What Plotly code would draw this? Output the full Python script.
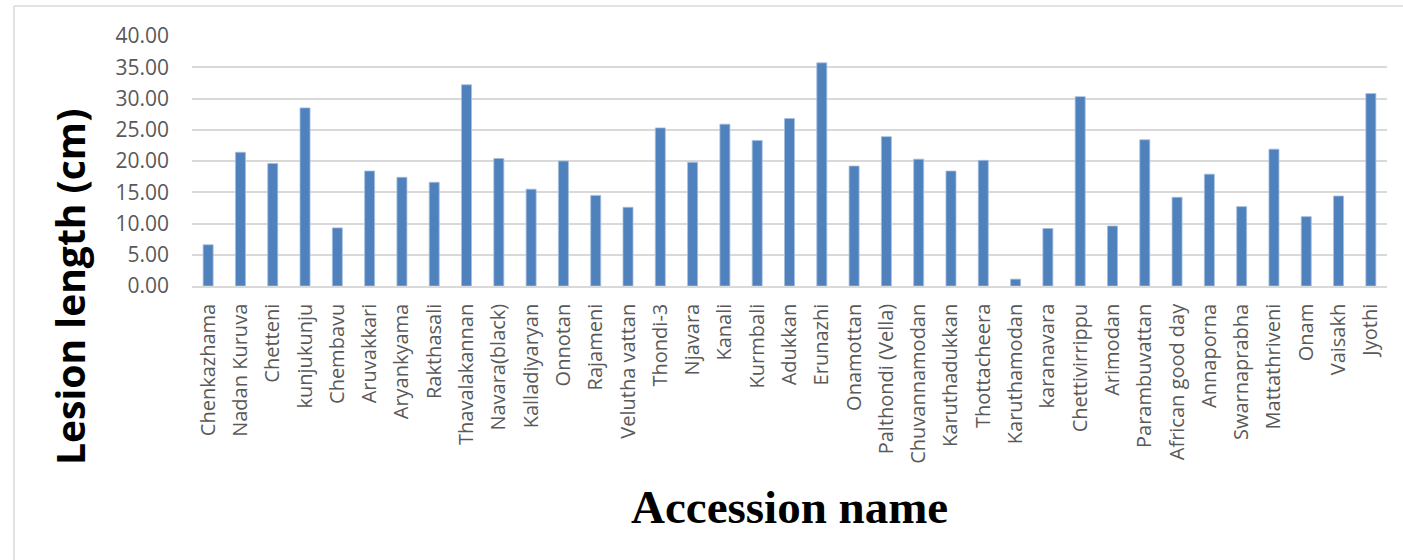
import plotly.graph_objects as go

accessions = ["Chenkazhama", "Nadan Kuruva", "Chetteni", "kunjukunju", "Chembavu",
              "Aruvakkari", "Aryankyama", "Rakthasali", "Thavalakannan", "Navara(black)",
              "Kalladiyaryan", "Onnotan", "Rajameni", "Velutha vattan", "Thondi-3",
              "Njavara", "Kanali", "Kurmbali", "Adukkan", "Erunazhi", "Onamottan",
              "Palthondi (Vella)", "Chuvannamodan", "Karuthadukkan", "Thottacheera",
              "Karuthamodan", "karanavara", "Chettivirrippu", "Arimodan", "Parambuvattan",
              "African good day", "Annaporna", "Swarnaprabha", "Mattathriveni", "Onam",
              "Vaisakh", "Jyothi"]
lesion_length = [6.6, 21.4, 19.6, 28.5, 9.3, 18.4, 17.4, 16.6, 32.2, 20.4,
                 15.5, 20.0, 14.5, 12.6, 25.3, 19.8, 25.9, 23.3, 26.8, 35.7, 19.2,
                 23.9, 20.3, 18.4, 20.1, 1.1, 9.2, 30.3, 9.6, 23.4,
                 14.2, 17.9, 12.7, 21.9, 11.1, 14.4, 30.8]
y_ticks = [0, 5, 10, 15, 20, 25, 30, 35, 40]

W, H = 1403, 560
L, R, T, B = 192, 16, 36, 274
pw, ph = W - L - R, H - T - B

def px_x(x):
    return (x - L) / pw

def px_y(y):
    return (H - B - y) / ph

fig = go.Figure(go.Bar(
    x=accessions, y=lesion_length,
    marker=dict(color="#4F81BD", line=dict(color="#A7BFDE", width=0.8)),
))

fig.update_layout(
    width=W, height=H,
    margin=dict(l=L, r=R, t=T, b=B),
    paper_bgcolor="white", plot_bgcolor="white",
    bargap=0.69,
    showlegend=False,
    font=dict(family="Open Sans", color="#595959"),
    xaxis=dict(
        tickangle=-90, tickfont=dict(size=20, family="Open Sans", color="#595959"),
        showgrid=False, showline=True, linecolor="#D9D9D9", linewidth=1.5,
        ticks="", ticklabelstandoff=8,
    ),
    yaxis=dict(
        range=[0, 40], tickvals=y_ticks,
        ticktext=[f"{v:.2f}" for v in y_ticks],
        tickfont=dict(size=21, family="Open Sans", color="#595959"),
        showgrid=True, gridcolor="#D9D9D9", gridwidth=1.5,
        zeroline=False, showline=False, ticks="", ticklabelstandoff=22,
    ),
    annotations=[
        dict(text="<b>Lesion length (cm)</b>", xref="paper", yref="paper",
             x=px_x(69), y=px_y(287), textangle=-90, showarrow=False,
             xanchor="center", yanchor="middle",
             font=dict(size=39, family="Open Sans", color="black")),
        dict(text="<b>Accession name</b>", xref="paper", yref="paper",
             x=px_x(789), y=px_y(507), showarrow=False,
             xanchor="center", yanchor="middle",
             font=dict(size=47, family="Liberation Serif", color="black")),
    ],
    shapes=[
        dict(type="line", xref="paper", yref="paper",
             x0=px_x(14), x1=px_x(1420), y0=px_y(6), y1=px_y(6),
             line=dict(color="#D9D9D9", width=1.5)),
        dict(type="line", xref="paper", yref="paper",
             x0=px_x(14), x1=px_x(14), y0=px_y(6), y1=px_y(580),
             line=dict(color="#D9D9D9", width=1.5)),
    ],
)

fig.write_html("out.html", config={"displayModeBar": False},
               post_script="document.body.style.margin='0';")
